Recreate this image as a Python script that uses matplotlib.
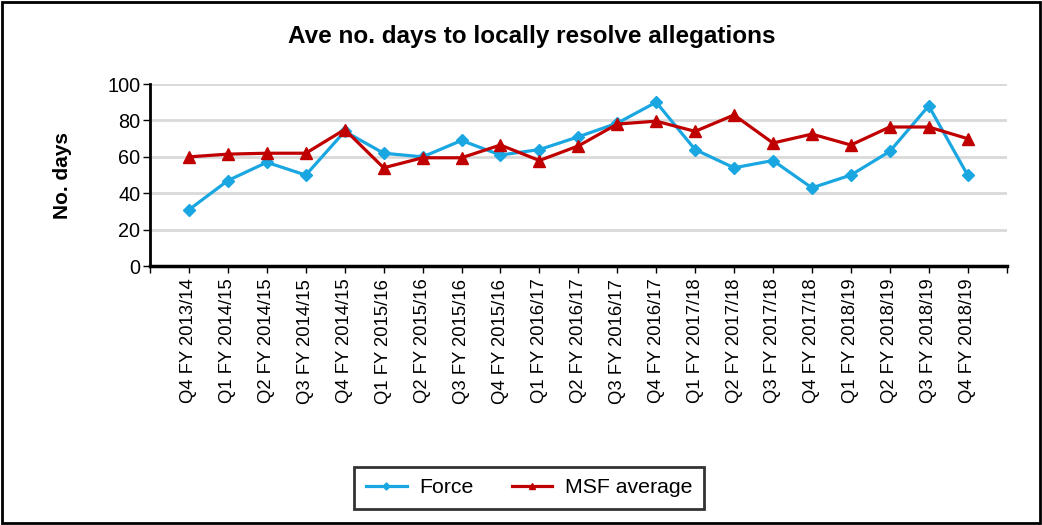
import numpy as np
import matplotlib.pyplot as plt
from matplotlib.patches import Rectangle

plt.rcParams['font.family'] = ['Liberation Sans', 'DejaVu Sans']

quarters = ["Q4 FY 2013/14", "Q1 FY 2014/15", "Q2 FY 2014/15", "Q3 FY 2014/15",
            "Q4 FY 2014/15", "Q1 FY 2015/16", "Q2 FY 2015/16", "Q3 FY 2015/16",
            "Q4 FY 2015/16", "Q1 FY 2016/17", "Q2 FY 2016/17", "Q3 FY 2016/17",
            "Q4 FY 2016/17", "Q1 FY 2017/18", "Q2 FY 2017/18", "Q3 FY 2017/18",
            "Q4 FY 2017/18", "Q1 FY 2018/19", "Q2 FY 2018/19", "Q3 FY 2018/19",
            "Q4 FY 2018/19"]
force = [31, 47, 57, 50, 74, 62, 60, 69, 61, 64, 71, 78.5, 90, 64, 54, 58, 43, 50, 63, 88, 50]
msf = [60, 61.5, 62, 62, 75, 54, 59.5, 59.5, 66.5, 58, 66, 78, 79.6, 74, 83, 67.6, 72.5, 66.5, 76.4, 76.4, 70]

fig = plt.figure(figsize=(10.42, 5.25), dpi=100)
ax = fig.add_axes([0.144, 0.493, 0.822, 0.347])

x = np.arange(len(quarters))
ax.plot(x, force, color='#1AA7E1', linewidth=2.3, marker='D', markersize=6, label='Force', zorder=3)
ax.plot(x, msf, color='#C00000', linewidth=2.3, marker='^', markersize=8, label='MSF average', zorder=3)

ax.set_xlim(-1, len(quarters))
ax.set_ylim(0, 100)
ax.set_yticks(np.arange(0, 101, 20))
ax.set_xticks(np.arange(-1, len(quarters) + 1))
ax.set_xticklabels([''] + quarters + [''], rotation=90, fontsize=13.3)
ax.tick_params(axis='y', labelsize=14.3, length=5, width=1, direction='out', pad=2)
ax.tick_params(axis='x', length=5, width=1, direction='out', pad=4)
ax.grid(axis='y', color='#D9D9D9', linewidth=2, zorder=0)
ax.set_axisbelow(True)
for side in ['top', 'right']:
    ax.spines[side].set_visible(False)
ax.spines['left'].set_linewidth(2)
ax.spines['bottom'].set_linewidth(2.5)

ax.set_ylabel('No. days', fontsize=15, fontweight='bold', labelpad=25)
fig.text(0.51, 0.93, 'Ave no. days to locally resolve allegations',
         ha='center', va='center', fontsize=17.5, fontweight='bold')

leg = fig.legend(loc='center', bbox_to_anchor=(0.508, 0.071), ncol=2, fontsize=15.3,
                 frameon=True, fancybox=False, edgecolor='black', handlelength=1.9,
                 handletextpad=0.6, columnspacing=1.8, borderpad=0.55, markerscale=0.6)
leg.get_frame().set_linewidth(2)

fig.patches.append(Rectangle((0.002, 0.003), 0.996, 0.994, transform=fig.transFigure,
                             fill=False, edgecolor='black', linewidth=2))

fig.savefig('out.png', dpi=100)
